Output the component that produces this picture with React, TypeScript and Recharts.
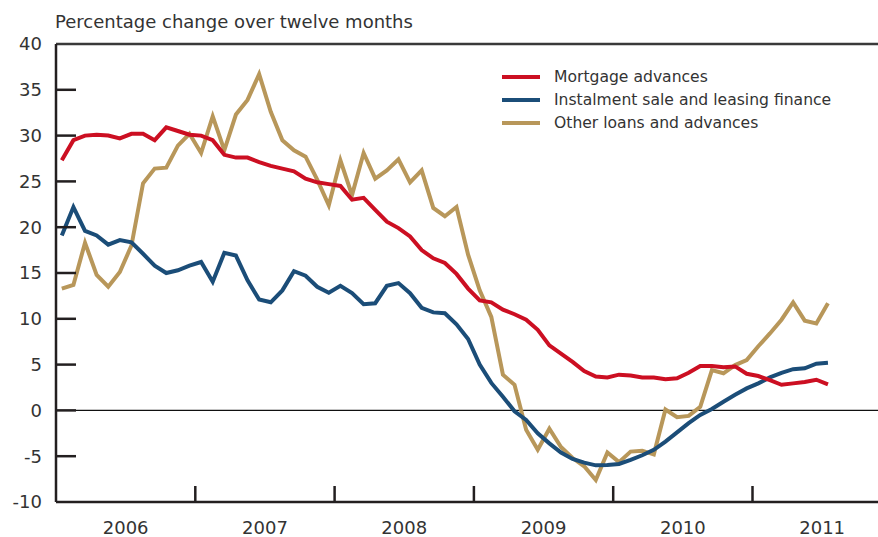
import React from 'react';
import { LineChart, Line, XAxis, YAxis, ReferenceLine } from 'recharts';

// monthly observations, Jan 2006 .. Jul 2011
const mortgage = [
  27.3, 29.5, 30.0, 30.1, 30.0, 29.7, 30.2, 30.2, 29.5, 30.9, 30.5, 30.1,
  30.0, 29.5, 27.9, 27.6, 27.6, 27.1, 26.7, 26.4, 26.1, 25.3, 24.9, 24.7,
  24.5, 23.0, 23.2, 21.9, 20.6, 19.9, 19.0, 17.5, 16.6, 16.1, 14.9, 13.3,
  12.0, 11.8, 11.0, 10.5, 9.9, 8.8, 7.1, 6.2, 5.3, 4.3, 3.7, 3.6,
  3.9, 3.8, 3.6, 3.6, 3.4, 3.5, 4.1, 4.85, 4.85, 4.7, 4.8, 4.0,
  3.75, 3.3, 2.8, 2.95, 3.1, 3.35, 2.85
];

const instalment = [
  19.1, 22.2, 19.6, 19.1, 18.1, 18.6, 18.35, 17.1, 15.8, 15.0, 15.3, 15.8,
  16.2, 14.05, 17.2, 16.9, 14.2, 12.1, 11.8, 13.1, 15.2, 14.7, 13.5, 12.85,
  13.6, 12.8, 11.6, 11.7, 13.6, 13.9, 12.8, 11.2, 10.7, 10.6, 9.4, 7.8,
  5.0, 3.0, 1.5, -0.1, -1.05, -2.5, -3.6, -4.6, -5.3, -5.7, -6.0, -5.95,
  -5.85, -5.4, -4.9, -4.3, -3.4, -2.4, -1.4, -0.5, 0.15, 0.95, 1.7, 2.4,
  2.95, 3.6, 4.1, 4.5, 4.6, 5.1, 5.2
];

const otherLoans = [
  13.3, 13.7, 18.3, 14.8, 13.5, 15.1, 18.0, 24.8, 26.4, 26.5, 28.9, 30.2,
  28.1, 32.1, 28.4, 32.3, 33.9, 36.7, 32.6, 29.5, 28.4, 27.7, 25.2, 22.4,
  27.3, 23.5, 28.1, 25.3, 26.2, 27.4, 24.9, 26.2, 22.1, 21.2, 22.2, 17.0,
  13.1, 10.2, 3.9, 2.8, -2.1, -4.3, -2.0, -4.0, -5.2, -6.1, -7.6, -4.6,
  -5.65, -4.5, -4.4, -4.8, 0.1, -0.75, -0.6, 0.4, 4.4, 4.05, 4.95, 5.5,
  7.0, 8.4, 9.9, 11.8, 9.8, 9.5, 11.7
];

const yearLabels = ['2006', '2007', '2008', '2009', '2010', '2011'];
const yTicks = [-10, -5, 0, 5, 10, 15, 20, 25, 30, 35, 40];
const yearMidTicks = [6, 18, 30, 42, 54, 66];

const series = [
  { key: 'mortgage', name: 'Mortgage advances', color: '#cc0f22' },
  { key: 'instalment', name: 'Instalment sale and leasing finance', color: '#1b4d78' },
  { key: 'other', name: 'Other loans and advances', color: '#b8975a' },
];

const data = mortgage.map((v, i) => ({
  m: i + 0.5,
  mortgage: v,
  instalment: instalment[i],
  other: otherLoans[i],
}));

const W = 878;
const H = 537;
const LEFT = 56;
const MONTH_PX = 139.3 / 12;
const X_MAX = (W - LEFT) / MONTH_PX;
const FONT = '"DejaVu Sans", Verdana, sans-serif';
const TEXT = '#333';
const AXIS = '#231f20';

function YTick({ x, y, payload }: any) {
  const v = payload.value;
  return (
    <g>
      <text x={x - 14} y={y} dy="0.36em" textAnchor="end" fontSize={18} fill={TEXT} fontFamily={FONT}>
        {v}
      </text>
      {v > -10 && v < 40 && (
        <line x1={x} x2={x + 20} y1={y} y2={y} stroke={AXIS} strokeWidth={2.5} />
      )}
    </g>
  );
}

function XTick({ x, y, payload }: any) {
  const idx = Math.round((payload.value - 6) / 12);
  const markX = x - 6 * MONTH_PX;
  return (
    <g>
      {idx > 0 && <line x1={markX} x2={markX} y1={y} y2={y - 16} stroke={AXIS} strokeWidth={2.5} />}
      <text x={x} y={y + 32} textAnchor="middle" fontSize={18} fill={TEXT} fontFamily={FONT}>
        {yearLabels[idx]}
      </text>
    </g>
  );
}

function LegendBox() {
  return (
    <div style={{ position: 'absolute', left: 502, top: 66, fontFamily: FONT, fontSize: 15.6, color: TEXT }}>
      {series.map((s) => (
        <div key={s.key} style={{ display: 'flex', alignItems: 'center', height: 22.7, whiteSpace: 'nowrap' }}>
          <span style={{ display: 'inline-block', width: 38, height: 4, background: s.color, marginRight: 14 }} />
          <span>{s.name}</span>
        </div>
      ))}
    </div>
  );
}

export default function App() {
  return (
    <div style={{ position: 'absolute', left: 0, top: 0, width: W, height: H, background: '#fff', overflow: 'hidden' }}>
      <div style={{ position: 'absolute', left: 55, top: 11, fontFamily: FONT, fontSize: 18, color: TEXT, whiteSpace: 'nowrap', lineHeight: 'normal' }}>
        Percentage change over twelve months
      </div>
      <LineChart width={W} height={H} data={data} margin={{ top: 44, right: 0, bottom: 0, left: 0 }}>
        <XAxis
          dataKey="m"
          type="number"
          domain={[0, X_MAX]}
          ticks={yearMidTicks}
          interval={0}
          height={35}
          tickSize={0}
          tickMargin={0}
          tickLine={false}
          axisLine={{ stroke: AXIS, strokeWidth: 2.5 }}
          tick={<XTick />}
        />
        <YAxis
          type="number"
          domain={[-10, 40]}
          ticks={yTicks}
          interval={0}
          width={LEFT}
          tickSize={0}
          tickMargin={0}
          tickLine={false}
          axisLine={{ stroke: AXIS, strokeWidth: 2.5 }}
          tick={<YTick />}
        />
        <ReferenceLine y={40} stroke="#3a3a3a" strokeWidth={2.5} />
        <ReferenceLine y={0} stroke="#111" strokeWidth={1.2} />
        <Line type="linear" dataKey="other" name="Other loans and advances" stroke="#b8975a" strokeWidth={4} dot={false} isAnimationActive={false} />
        <Line type="linear" dataKey="instalment" name="Instalment sale and leasing finance" stroke="#1b4d78" strokeWidth={4} dot={false} isAnimationActive={false} />
        <Line type="linear" dataKey="mortgage" name="Mortgage advances" stroke="#cc0f22" strokeWidth={4} dot={false} isAnimationActive={false} />
      </LineChart>
      <LegendBox />
    </div>
  );
}
